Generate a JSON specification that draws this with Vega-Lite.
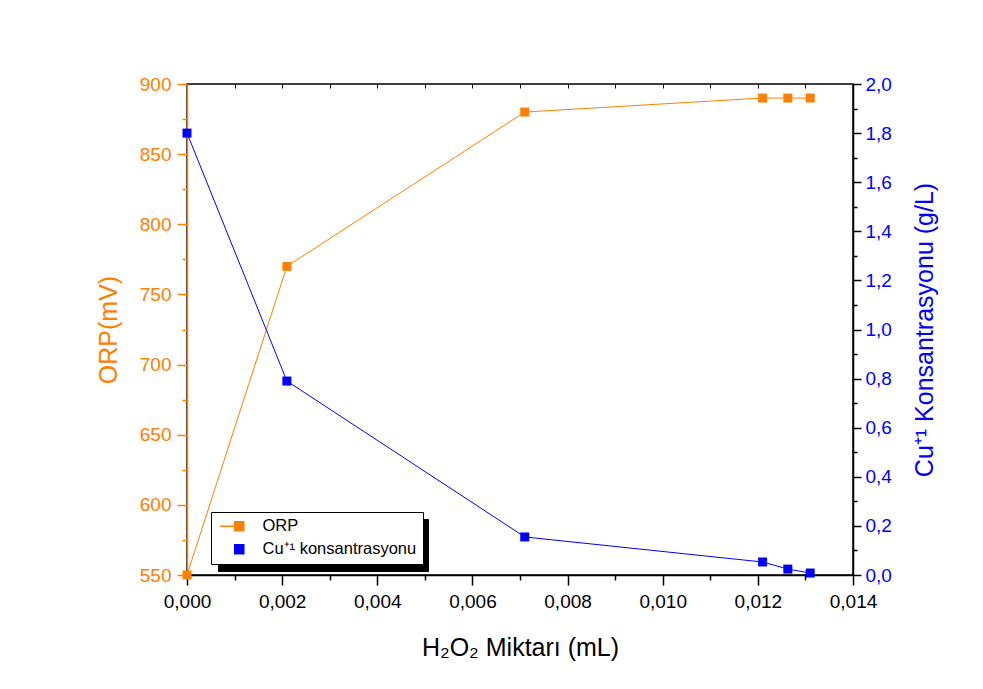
{
  "$schema": "https://vega.github.io/schema/vega-lite/v6.json",
  "width": 666,
  "height": 491,
  "autosize": "none",
  "padding": {"left": 187, "top": 84, "right": 130, "bottom": 114},
  "background": "white",
  "config": {
    "font": "Liberation Sans",
    "view": {"stroke": "black", "strokeWidth": 1.5},
    "axis": {"grid": false, "labelFont": "Liberation Sans", "titleFont": "Liberation Sans", "titleFontWeight": "normal", "labelFontSize": 19, "titleFontSize": 25, "domainWidth": 1.5, "tickWidth": 1.5, "labelOverlap": false, "labelFlush": false, "labelBound": false}
  },
  "data": {"values": [
    {"h": 0.0, "orp": 550, "cu": 1.80},
    {"h": 0.0021, "orp": 770, "cu": 0.79},
    {"h": 0.0071, "orp": 880, "cu": 0.155},
    {"h": 0.0121, "orp": 890, "cu": 0.053},
    {"h": 0.01263, "orp": 890, "cu": 0.024},
    {"h": 0.0131, "orp": 890, "cu": 0.008}
  ]},
  "layer": [
    {
      "encoding": {
        "x": {"field": "h", "type": "quantitative", "scale": {"domain": [0, 0.014], "nice": false, "zero": false},
          "axis": {"orient": "bottom", "title": "H₂O₂ Miktarı (mL)", "titleColor": "black", "titlePadding": 24,
            "values": [0,0.001,0.002,0.003,0.004,0.005,0.006,0.007,0.008,0.009,0.01,0.011,0.012,0.013,0.014],
            "labelExpr": "round(datum.value*1000)%2===0 ? replace(format(datum.value,'.3f'),'.',',') : ''",
            "tickSize": {"condition": {"test": "round(datum.value*1000)%2===0", "value": 10}, "value": 5},
            "domainColor": "black", "tickColor": "black", "labelColor": "black", "labelPadding": 7}},
        "y": {"field": "orp", "type": "quantitative", "scale": {"domain": [550, 900], "nice": false, "zero": false},
          "axis": {"orient": "left", "title": "ORP(mV)", "titleColor": "#FF8000", "labelColor": "#FF8000", "domainColor": "#FF8000", "tickColor": "#FF8000", "titlePadding": 18, "labelPadding": 6,
            "values": [550,575,600,625,650,675,700,725,750,775,800,825,850,875,900],
            "labelExpr": "datum.value % 50 === 0 ? format(datum.value,'d') : ''",
            "tickSize": {"condition": {"test": "datum.value % 50 === 0", "value": 10}, "value": 5}}}
      },
      "layer": [
        {"mark": {"type": "line", "strokeWidth": 1},
         "encoding": {"color": {"datum": "ORP", "type": "nominal",
          "scale": {"domain": ["ORP", "Cu⁺¹ konsantrasyonu"], "range": ["#FF8000", "#0000FF"]},
          "legend": {"title": null, "orient": "none", "legendX": 24, "legendY": 428, "fillColor": "white", "strokeColor": "black", "padding": 6, "labelFontSize": 16.5, "labelFont": "Liberation Sans", "labelColor": "black", "symbolType": "square", "symbolSize": 81, "rowPadding": 6, "labelOffset": 15, "symbolOffset": 14, "labelLimit": 300, "zindex": 2,
            "encode": {"symbols": {"update": {
              "shape": {"signal": "datum.value === 'ORP' ? 'M-4.2,0H-1.2M-1,-1H1V1H-1Z' : 'square'"},
              "fill": {"signal": "datum.value === 'ORP' ? '#FF8000' : '#0000FF'"},
              "stroke": {"signal": "datum.value === 'ORP' ? '#FF8000' : '#0000FF'"}}}}}}}},
        {"mark": {"type": "point", "shape": "square", "filled": true, "size": 81, "opacity": 1, "color": "#FF8000"}},
        {"mark": {"type": "point", "filled": true, "opacity": 0},
         "encoding": {"shape": {"datum": "ORP ", "type": "nominal",
          "scale": {"domain": ["ORP ", "Cu⁺¹ konsantrasyonu "], "range": ["square", "square"]},
          "legend": {"title": null, "orient": "none", "legendX": 31, "legendY": 435, "fillColor": "black", "strokeColor": "black", "padding": 6, "labelFontSize": 16.5, "labelFont": "Liberation Sans", "labelColor": "black", "labelExpr": "' '", "symbolSize": 81, "rowPadding": 6, "labelOffset": 167, "symbolOffset": 14, "labelLimit": 300, "zindex": 0}}}}
      ]
    },
    {
      "encoding": {
        "x": {"field": "h", "type": "quantitative",
          "axis": {"orient": "top", "title": null, "labels": false, "domain": false,
            "values": [0,0.001,0.002,0.003,0.004,0.005,0.006,0.007,0.008,0.009,0.01,0.011,0.012,0.013,0.014],
            "tickSize": -4, "tickColor": "black", "tickWidth": 1}},
        "y": {"field": "cu", "type": "quantitative", "scale": {"domain": [0, 2], "nice": false, "zero": false},
          "axis": {"orient": "right", "title": "Cu⁺¹ Konsantrasyonu (g/L)", "titleColor": "#0000FF", "labelColor": "#0000FF", "domainColor": "black", "tickColor": "black", "titleAngle": 270, "titlePadding": 46, "labelPadding": 4,
            "values": [0,0.1,0.2,0.3,0.4,0.5,0.6,0.7,0.8,0.9,1.0,1.1,1.2,1.3,1.4,1.5,1.6,1.7,1.8,1.9,2.0],
            "labelExpr": "round(datum.value*10)%2===0 ? replace(format(datum.value,'.1f'),'.',',') : ''",
            "tickSize": {"condition": {"test": "round(datum.value*10)%2===0", "value": 8}, "value": 4}}}
      },
      "layer": [
        {"mark": {"type": "line", "strokeWidth": 1},
         "encoding": {"color": {"datum": "Cu⁺¹ konsantrasyonu", "type": "nominal"}}},
        {"mark": {"type": "point", "shape": "square", "filled": true, "size": 81, "opacity": 1, "color": "#0000FF"}}
      ]
    }
  ],
  "resolve": {"scale": {"y": "independent"}, "axis": {"x": "independent"}}
}
